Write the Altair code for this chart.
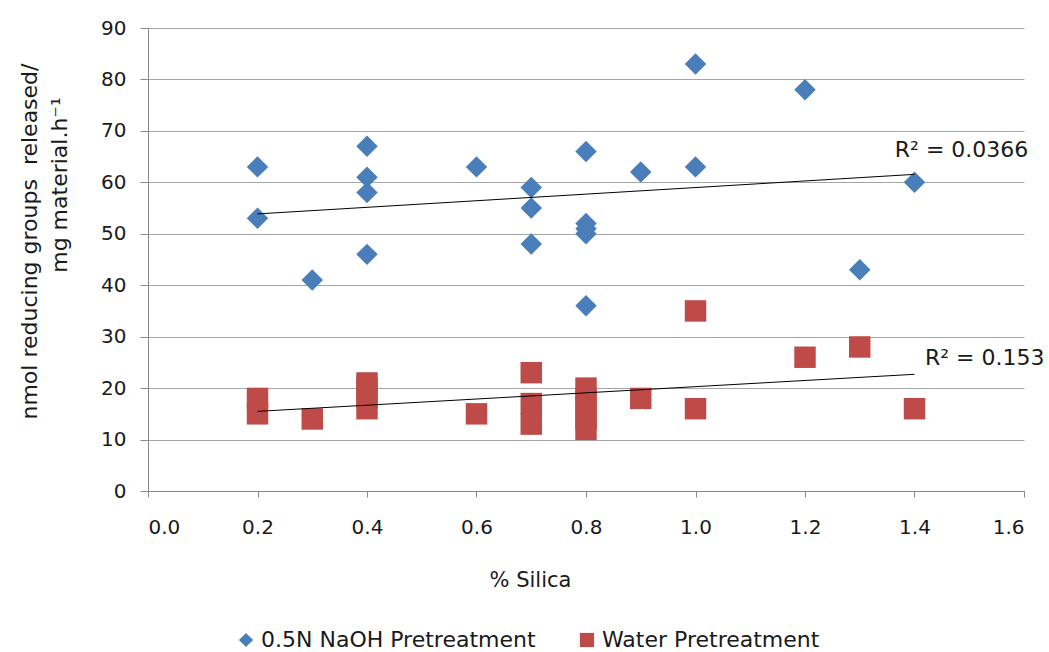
import altair as alt
import pandas as pd

# NaOH pretreatment (blue diamonds)
naoh_x = [0.2, 0.2, 0.3, 0.4, 0.4, 0.4, 0.4, 0.6, 0.7, 0.7, 0.7,
          0.8, 0.8, 0.8, 0.8, 0.8, 0.9, 1.0, 1.0, 1.2, 1.3, 1.4]
naoh_y = [63, 53, 41, 67, 61, 58, 46, 63, 59, 55, 48,
          66, 52, 51, 50, 36, 62, 83, 63, 78, 43, 60]

# Water pretreatment (red squares)
water_x = [0.2, 0.2, 0.3, 0.4, 0.4, 0.4, 0.4, 0.6, 0.7, 0.7, 0.7,
           0.8, 0.8, 0.8, 0.8, 0.8, 0.9, 1.0, 1.0, 1.2, 1.3, 1.4]
water_y = [15, 18, 14, 16, 18, 20, 21, 15, 23, 17, 13,
           20, 18, 16, 14, 12, 18, 35, 16, 26, 28, 16]

series_names = ["0.5N NaOH Pretreatment", "Water Pretreatment"]
series_colors = ["#4A7EBB", "#BE4B48"]
series_shapes = ["diamond", "square"]

r2_labels = ["R² = 0.0366", "R² = 0.153"]
r2_x = [1.364, 1.419]
r2_y = [66.3, 25.9]

y_title_line1 = "nmol reducing groups\u00a0 released/"
y_title_line2 = "mg material.h\u207b\u00b9"

x_ticks = [0.0, 0.2, 0.4, 0.6, 0.8, 1.0, 1.2, 1.4, 1.6]
y_ticks = [0, 10, 20, 30, 40, 50, 60, 70, 80, 90]

df = pd.DataFrame({
    "silica": naoh_x + water_x,
    "value": naoh_y + water_y,
    "series": [series_names[0]] * len(naoh_x) + [series_names[1]] * len(water_x),
})
ann = pd.DataFrame({"label": r2_labels, "x": r2_x, "y": r2_y})
ytitle2 = pd.DataFrame({"label": [y_title_line2]})

FONT = "DejaVu Sans"
TXT = "#1a1a1a"

xscale = alt.Scale(domain=[0, 1.6], nice=False, zero=False)
yscale = alt.Scale(domain=[0, 90], nice=False)

x_enc = alt.X(
    "silica:Q", scale=xscale,
    axis=alt.Axis(values=x_ticks, format=".1f", grid=False, title="% Silica",
                  titleX=382, titleY=89, titleBaseline="middle", titleAlign="center",
                  tickSize=6, labelPadding=20,
                  labelFont=FONT, titleFont=FONT, labelFontSize=20, titleFontSize=21,
                  labelColor=TXT, titleColor=TXT, titleFontWeight="normal",
                  domainColor="#888888", tickColor="#888888"),
)
legend = alt.Legend(title=None, orient="none", direction="horizontal",
                    legendX=87, legendY=601, columnPadding=40, labelLimit=600,
                    symbolSize=200, labelFontSize=22, labelFont=FONT,
                    labelColor=TXT, symbolOpacity=1, labelOffset=4)
y_enc = alt.Y(
    "value:Q", scale=yscale,
    axis=alt.Axis(values=y_ticks, grid=True, tickSize=8, labelPadding=14,
                  title=y_title_line1,
                  titleAngle=-90, titleX=-119, titleY=213,
                  titleBaseline="middle", titleAlign="center",
                  labelFont=FONT, titleFont=FONT, labelFontSize=20, titleFontSize=22,
                  labelColor=TXT, titleColor=TXT, titleFontWeight="normal",
                  gridColor="#a6a6a6", domainColor="#888888", tickColor="#888888"),
)

points = alt.Chart(df).mark_point(filled=True, opacity=1, size=460).encode(
    x=x_enc,
    y=y_enc,
    color=alt.Color("series:N", scale=alt.Scale(domain=series_names, range=series_colors),
                    legend=legend),
    shape=alt.Shape("series:N", scale=alt.Scale(domain=series_names, range=series_shapes),
                    legend=legend),
)

trend = alt.Chart(df).transform_regression(
    "silica", "value", groupby=["series"]
).mark_line(color="black", strokeWidth=1).encode(
    x="silica:Q", y="value:Q", detail="series:N"
)

labels = alt.Chart(ann).mark_text(
    align="left", baseline="middle", fontSize=22, font=FONT, color=TXT
).encode(x="x:Q", y="y:Q", text="label:N")

title2 = alt.Chart(ytitle2).mark_text(
    angle=270, align="center", baseline="middle", fontSize=22, font=FONT, color=TXT
).encode(x=alt.value(-88), y=alt.value(157), text="label:N")

chart = alt.layer(points, trend, labels, title2).properties(
    width=876, height=463,
    autosize=alt.AutoSizeParams(type="none"),
    padding={"left": 148, "top": 28, "right": 25, "bottom": 161},
    background="white",
).configure_view(stroke=None)

chart.save("out.html", embed_options={"renderer": "svg", "actions": False})
